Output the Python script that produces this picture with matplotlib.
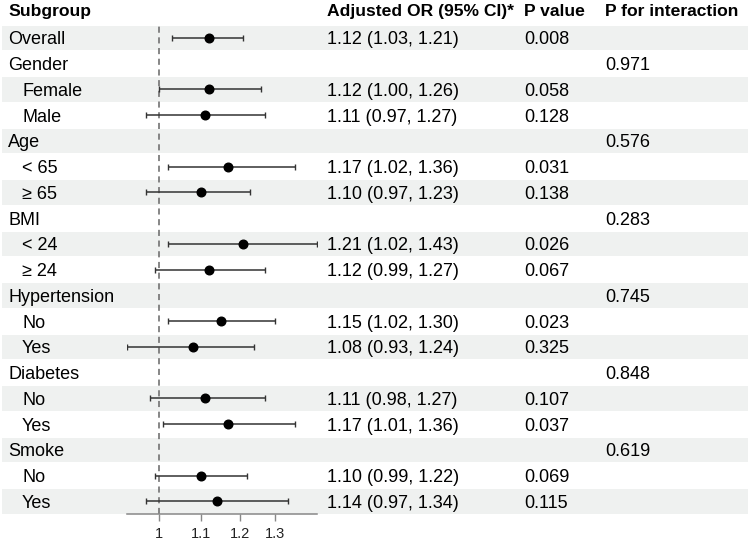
import matplotlib
matplotlib.use("Agg")
import matplotlib.pyplot as plt
import numpy as np

plt.rcParams['font.family'] = ['Liberation Sans', 'DejaVu Sans']

# table rows (label, indented?)
labels = ["Overall", "Gender", "Female", "Male", "Age", "< 65", "\u2265 65",
          "BMI", "< 24", "\u2265 24", "Hypertension", "No", "Yes",
          "Diabetes", "No", "Yes", "Smoke", "No", "Yes"]
indent = [False, False, True, True, False, True, True, False, True, True,
          False, True, True, False, True, True, False, True, True]
# OR estimates, None for group header rows
est = [1.12, None, 1.12, 1.11, None, 1.17, 1.10, None, 1.21, 1.12,
       None, 1.15, 1.08, None, 1.11, 1.17, None, 1.10, 1.14]
lower = [1.03, None, 1.00, 0.97, None, 1.02, 0.97, None, 1.02, 0.99,
         None, 1.02, 0.93, None, 0.98, 1.01, None, 0.99, 0.97]
upper = [1.21, None, 1.26, 1.27, None, 1.36, 1.23, None, 1.43, 1.27,
         None, 1.30, 1.24, None, 1.27, 1.36, None, 1.22, 1.34]
p_value = ["0.008", "", "0.058", "0.128", "", "0.031", "0.138", "", "0.026", "0.067",
           "", "0.023", "0.325", "", "0.107", "0.037", "", "0.069", "0.115"]
p_inter = ["", "0.971", "", "", "0.576", "", "", "0.283", "", "",
           "0.745", "", "", "0.848", "", "", "0.619", "", ""]
headers = ["Subgroup", "Adjusted OR (95% CI)*", "P value", "P for interaction"]
ticks = [1, 1.1, 1.2, 1.3]

W, H = 750, 540
top, row_h = 25, 25.75
n = len(labels)
col_x = [8, 327, 524, 605]

fig = plt.figure(figsize=(W / 100, H / 100), dpi=100)

# background/table axes in pixel coords
tab = fig.add_axes([0, 0, 1, 1])
tab.set_xlim(0, W)
tab.set_ylim(H, 0)
tab.axis("off")

fs = 13
for cx, h in zip(col_x, headers):
    tab.text(cx, 16, h, fontsize=12.6, fontweight="bold", va="baseline")

for i in range(n):
    y0 = top + i * row_h
    yb = y0 + row_h / 2 + 6.4  # baseline
    if i % 2 == 0:
        tab.add_patch(plt.Rectangle((2, y0 + 0.5), 746, row_h - 1, color="#eff1f0", lw=0, zorder=0))
    tab.text(22 if indent[i] else 8, yb, labels[i], fontsize=fs, va="baseline")
    if est[i] is not None:
        tab.text(col_x[1], yb, f"{est[i]:.2f} ({lower[i]:.2f}, {upper[i]:.2f})", fontsize=fs, va="baseline")
    tab.text(col_x[2], yb, p_value[i], fontsize=fs, va="baseline")
    tab.text(col_x[3], yb, p_inter[i], fontsize=fs, va="baseline")

# forest axes
x0, x1 = 127, 317
y_end = top + n * row_h
ax = fig.add_axes([x0 / W, 1 - y_end / H, (x1 - x0) / W, (y_end - top) / H])
ax.patch.set_alpha(0)
ax.set_xscale("log")
ax.set_xlim(0.93, 1.43)
ax.set_ylim(n, 0)

idx = [i for i in range(n) if est[i] is not None]
ys = np.array(idx) + 0.5
e = np.array([est[i] for i in idx])
lo = np.array([lower[i] for i in idx])
hi = np.array([upper[i] for i in idx])

ax.axvline(1, color="#666666", lw=1.1, ls=(0, (4, 3)), zorder=1)
ax.errorbar(e, ys, xerr=[e - lo, hi - e], fmt="none", ecolor="#333333",
            elinewidth=1.1, capsize=2, capthick=1, zorder=2)
ax.plot(e, ys, "o", color="black", ms=6.2, zorder=3)

for s in ["top", "right", "left"]:
    ax.spines[s].set_visible(False)
ax.spines["bottom"].set_color("#888888")
ax.spines["bottom"].set_linewidth(1.1)
ax.set_yticks([])
ax.xaxis.set_minor_locator(matplotlib.ticker.NullLocator())
ax.set_xticks(ticks)
ax.set_xticklabels([str(t) for t in ticks])
ax.tick_params(axis="x", labelsize=10.5, colors="#888888", labelcolor="#222222",
               length=5, width=1, pad=4)

fig.savefig("out.png", dpi=100)
